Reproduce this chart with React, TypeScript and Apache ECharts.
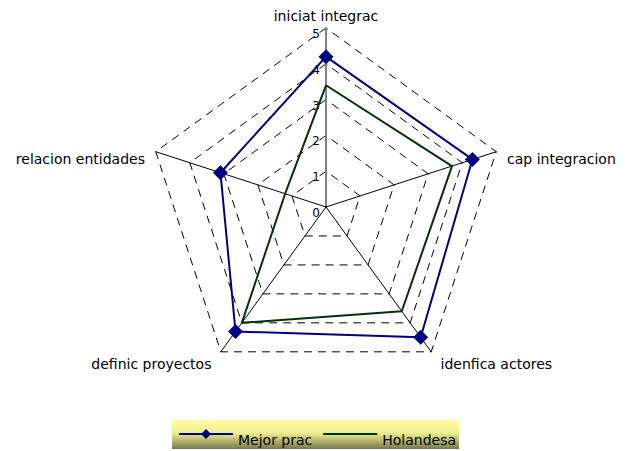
import React, { useEffect, useRef } from "react";
import * as echarts from "echarts";

// Indicators in ECharts order (counter-clockwise from the top)
const indicatorNames = [
  "iniciat integrac",
  "relacion entidades",
  "definic proyectos",
  "idenfica actores",
  "cap integracion",
];
const maxValue = 5;
const seriesNames = ["Mejor prac", "Holandesa"];
const mejorPrac = [4.2, 3.1, 4.3, 4.5, 4.3];
const holandesa = [3.4, 1.2, 4.0, 3.6, 3.7];

const FONT = "DejaVu Sans";

export default function App() {
  const ref = useRef<HTMLDivElement>(null);
  useEffect(() => {
    if (!ref.current) return;
    const chart = echarts.init(ref.current, undefined, { renderer: "svg" });
    const indicator = indicatorNames.map((name, i) =>
      i === 0
        ? {
            name,
            max: maxValue,
            min: 0,
            nameMoveOverlap: false,
            axisLabel: {
              show: true,
              fontSize: 12,
              fontFamily: FONT,
              color: "#000",
              margin: 6,
              verticalAlign: "top",
            },
            axisLine: { lineStyle: { color: "#808080", width: 2 } },
          }
        : { name, max: maxValue, min: 0, nameMoveOverlap: false }
    );
    chart.setOption({
      animation: false,
      backgroundColor: "#fff",
      radar: {
        center: [326, 207],
        radius: 179,
        startAngle: 90,
        shape: "polygon",
        splitNumber: 5,
        axisNameGap: 4,
        axisName: {
          color: "#000",
          fontSize: 14,
          fontFamily: FONT,
          lineHeight: 17,
          padding: [0, 7, 0, 7],
          formatter: (name: string) => "\n" + name,
        },
        indicator,
        axisLine: { show: true, lineStyle: { color: "#000", width: 1 } },
        axisTick: { show: false },
        axisLabel: { show: false },
        splitLine: {
          show: true,
          lineStyle: { color: "#000", width: 1, type: [8, 6] },
        },
        splitArea: { show: false },
      },
      legend: {
        left: 172,
        top: 420,
        padding: [1, 3, 2, 7],
        itemWidth: 54,
        itemHeight: 14,
        itemGap: 11,
        symbolKeepAspect: true,
        backgroundColor: new echarts.graphic.LinearGradient(0, 0, 0, 1, [
          { offset: 0, color: "#ffffa0" },
          { offset: 0.45, color: "#eeee90" },
          { offset: 1, color: "#78784a" },
        ]),
        formatter: (name: string) => "\n" + name,
        textStyle: {
          fontSize: 14,
          fontFamily: FONT,
          color: "#000",
          lineHeight: 12,
        },
        itemStyle: { borderWidth: 0 },
        data: [
          {
            name: seriesNames[0],
            icon: "path://M0,6 H54 V8 H0 Z M22,7 L27,2 L32,7 L27,12 Z",
          },
          { name: seriesNames[1], icon: "path://M0,6 H54 V8 H0 Z" },
        ],
      },
      series: [
        {
          type: "radar",
          data: [
            {
              name: seriesNames[0],
              value: mejorPrac,
              symbol: "diamond",
              symbolSize: 15,
              lineStyle: { color: "#000080", width: 2 },
              itemStyle: { color: "#000080" },
            },
            {
              name: seriesNames[1],
              value: holandesa,
              symbol: "none",
              lineStyle: { color: "#003300", width: 2 },
              itemStyle: { color: "#003300" },
            },
          ],
        },
      ],
    });
    return () => chart.dispose();
  }, []);
  return (
    <div
      ref={ref}
      style={{ position: "fixed", left: 0, top: 0, width: 626, height: 451 }}
    />
  );
}
